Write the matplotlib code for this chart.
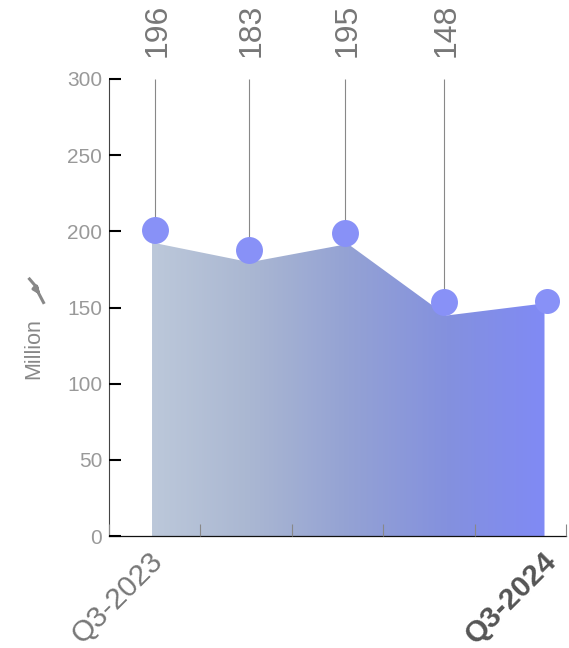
import numpy as np
import matplotlib
matplotlib.use('Agg')
from matplotlib import pyplot as plt
from matplotlib.colors import LinearSegmentedColormap
from matplotlib.lines import Line2D
from matplotlib.transforms import Affine2D

plt.rcParams['font.family'] = ['Liberation Sans', 'DejaVu Sans']

quarters = ['Q3-2023', '', '', '', 'Q3-2024']
values = [196, 183, 195, 148, 156]
value_labels = ['196', '183', '195', '148']
y_ticks = [0, 50, 100, 150, 200, 250, 300]

W, H = 569, 648
fig = plt.figure(figsize=(W / 100, H / 100), dpi=100)
ax = fig.add_axes([109 / W, (H - 536) / H, (566 - 109) / W, 457 / H])

x = np.arange(len(values))
step = (545 - 152) / 4  # pixels between two quarters
xmin = -(152 - 109) / step
xmax = (566 - 152) / step


def shifted(dx, dy):
    # data position moved by a few pixels
    return ax.transData + Affine2D().translate(dx, dy)


# area with a horizontal gradient, sits a little below the dots
area_shift = shifted(-0.5, -5)
cmap = LinearSegmentedColormap.from_list('area', ['#bcc8da', '#aab7d2', '#94a2d4', '#8491de', '#808af5'])
area = ax.fill_between(x, values, 0, facecolor='none', edgecolor='none', transform=area_shift)
im = ax.imshow(np.linspace(0, 1, 256).reshape(1, -1), cmap=cmap, aspect='auto',
               extent=[0, 4, 0, 300], zorder=1)
im.set_clip_path(area.get_paths()[0], area_shift)

# stems and dots
dot_dx = [3, -1.5, -3.5, -3, 2]
dot_dy = [7.6, 7, 6, 8.8, -3]
dot_size = [19.4, 19.4, 19.4, 19.4, 18]
for i in x:
    t = shifted(dot_dx[i], dot_dy[i])
    if i < len(value_labels):
        ax.plot([i, i], [values[i], 300 - dot_dy[i] / 1.525], color='#888888', lw=0.8,
                transform=t, zorder=2, clip_on=False, solid_capstyle='butt')
        ax.text(i, 300, value_labels[i], rotation=90, ha='center', va='bottom', fontsize=23,
                color='#777777', transform=shifted(dot_dx[i] + 2.5, 22), clip_on=False)
    ax.plot([i], [values[i]], 'o', color='#8891f7', ms=dot_size[i], mew=0,
            transform=t, zorder=3, clip_on=False)

ax.set_xlim(xmin, xmax)
ax.set_ylim(0, 300)

# axes
for s in ['top', 'right']:
    ax.spines[s].set_visible(False)
ax.spines['left'].set_color('#444444')
ax.spines['left'].set_linewidth(0.8)
ax.spines['bottom'].set_color('#111111')
ax.spines['bottom'].set_linewidth(0.9)
ax.set_yticks(y_ticks)
ax.tick_params(axis='y', direction='in', length=8.6, width=1.5, color='black',
               labelsize=15, labelcolor='#999999', pad=5)
ax.set_xticks(np.linspace(xmin, xmax, 6))
ax.set_xticklabels([])
ax.tick_params(axis='x', direction='in', length=8.6, width=0.8, color='#888888')
ax.set_axisbelow(False)

# only first and last quarter are labelled
ax.text(0, 0, quarters[0], rotation=45, rotation_mode='anchor', ha='right', va='center',
        fontsize=21.5, color='#777777', transform=shifted(7, -21), clip_on=False)
ax.text(4, 0, quarters[4], rotation=45, rotation_mode='anchor', ha='right', va='center',
        fontsize=21.5, color='#555555', fontweight='bold', transform=shifted(7, -21), clip_on=False)

fig.text(34 / W, 1 - 349 / H, 'Million', rotation=90, ha='center', va='center',
         fontsize=15.5, color='#888888')

# little unit icon above the axis title
px = Affine2D().scale(1, -1).translate(0, H)
fig.add_artist(Line2D([29.5, 35.5, 33, 38, 36.5, 38.5, 43.5], [279, 286, 289, 292, 286, 293, 302.5],
                      color='#888888', lw=2.2, solid_joinstyle='round', transform=px))

fig.savefig('out.png', dpi=100)
